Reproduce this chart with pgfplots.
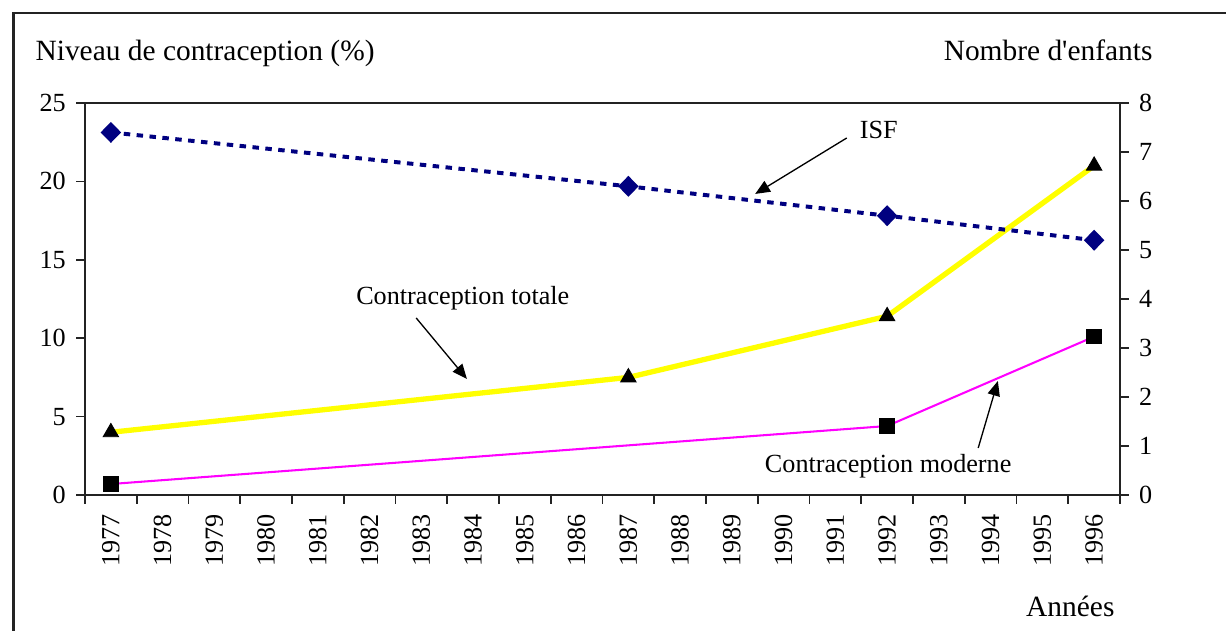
\documentclass[border=0pt]{standalone}
\usepackage{fontspec}
\setmainfont{Liberation Serif}
\usepackage{pgfplots}
\pgfplotsset{compat=1.18}
\usetikzlibrary{arrows.meta}
\definecolor{isfblue}{RGB}{0,0,128}
\definecolor{ctyellow}{RGB}{255,255,0}
\definecolor{cmmag}{RGB}{255,0,255}
\definecolor{axgray}{RGB}{35,35,35}
\newcommand\sm{\fontsize{8.9}{10.5}\selectfont}
\begin{document}
\begin{tikzpicture}
\useasboundingbox (0,0) rectangle (416.84pt,214.2pt);
\begin{axis}[
  at={(28.9pt,45.9pt)}, anchor=south west,
  scale only axis, width=351.9pt, height=133.28pt,
  xmin=-0.5, xmax=19.5, ymin=0, ymax=25,
  xtick={-0.5,0.5,...,19.5},
  xticklabels={1977,1978,1979,1980,1981,1982,1983,1984,1985,1986,1987,1988,1989,1990,1991,1992,1993,1994,1995,1996},
  x tick label as interval,
  ytick={0,5,...,25},
  tick align=outside, tick pos=left,
  major tick length=3pt,
  axis line style={axgray, line width=0.6pt},
  every tick/.style={axgray, line width=0.6pt},
  xticklabel style={rotate=90, anchor=east, font=\sm},
  yticklabel style={font=\sm},
  /pgf/number format/assume math mode=true,
  clip=false,
]
\addplot[ctyellow, line width=1.8pt, mark=triangle*, mark size=3pt,
  mark options={black, fill=black, line width=0.3pt}] coordinates {(0,4.0) (10,7.5) (15,11.4) (19,21.0)};
\addplot[cmmag, line width=0.7pt, mark=square*, mark size=2.3pt,
  mark options={black, fill=black}] coordinates {(0,0.7) (15,4.4) (19,10.1)};
% annotations
\node[font=\sm] at (axis cs:14.84,23.28) {ISF};
\draw[-{Triangle[length=5pt,width=4.2pt]}, line width=0.45pt] (axis cs:14.22,22.77) -- (axis cs:12.45,19.20);
\node[font=\sm] at (axis cs:6.80,12.56) {Contraception totale};
\draw[-{Triangle[length=5pt,width=4.2pt]}, line width=0.45pt] (axis cs:5.90,11.29) -- (axis cs:6.88,7.40);
\node[font=\sm] at (axis cs:15.02,1.85) {Contraception moderne};
\draw[-{Triangle[length=5pt,width=4.2pt]}, line width=0.45pt] (axis cs:16.76,3.0) -- (axis cs:17.14,7.27);
% titles
\node[anchor=base west, inner sep=0pt] at (rel axis cs:-0.0483,1.1097) {Niveau de contraception (\%)};
\node[anchor=base east, inner sep=0pt] at (rel axis cs:1.0319,1.1097) {Nombre d\textquotesingle enfants};
\node[anchor=base east, inner sep=0pt] at (rel axis cs:0.9952,-0.311) {Années};
\end{axis}
\begin{axis}[
  at={(28.9pt,45.9pt)}, anchor=south west,
  scale only axis, width=351.9pt, height=133.28pt,
  xmin=-0.5, xmax=19.5, ymin=0, ymax=8,
  axis x line=none, axis y line*=right,
  ytick={0,1,...,8},
  tick align=outside,
  major tick length=3pt,
  axis line style={axgray, line width=0.6pt},
  every tick/.style={axgray, line width=0.6pt},
  yticklabel style={font=\sm},
  /pgf/number format/assume math mode=true,
  clip=false,
]
\addplot[isfblue, line width=1.35pt, dash pattern=on 2.2pt off 2.2pt, mark=diamond*, mark size=2.6pt,
  mark options={solid, isfblue, fill=isfblue, xscale=1.3}] coordinates {(0,7.4) (10,6.3) (15,5.7) (19,5.2)};
\end{axis}
\draw[axgray, line width=0.8pt] (4.6pt,-10pt) -- (4.6pt,209.8pt) -- (430pt,209.8pt);
\end{tikzpicture}
\end{document}
